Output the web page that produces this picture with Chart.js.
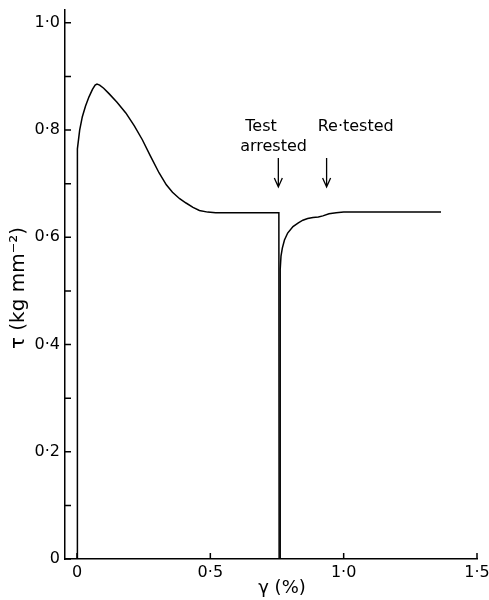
<!DOCTYPE html>
<html>
<head>
<meta charset="utf-8">
<script src="https://cdn.jsdelivr.net/npm/chart.js@4.4.1/dist/chart.umd.min.js"></script>
<style>
  html, body { margin: 0; padding: 0; background: #fff; }
  canvas { display: block; }
</style>
</head>
<body>
<canvas id="myChart" width="489" height="600"></canvas>
<script>
// first test: shear strain (%) vs shear stress (kg mm-2), then arrested
const testGamma = [0, 0, 0.003, 0.01, 0.02, 0.032, 0.045, 0.058, 0.068, 0.075, 0.085, 0.1, 0.12, 0.15, 0.183, 0.215, 0.245, 0.275, 0.308, 0.335, 0.358, 0.385, 0.409, 0.435, 0.459, 0.49, 0.52, 0.757, 0.758];
const testTau   = [0, 0.72, 0.765, 0.80, 0.825, 0.845, 0.862, 0.876, 0.884, 0.886, 0.884, 0.878, 0.868, 0.852, 0.832, 0.808, 0.782, 0.752, 0.72, 0.698, 0.684, 0.672, 0.664, 0.656, 0.65, 0.647, 0.646, 0.646, 0];

// re-test
const retestGamma = [0.762, 0.762, 0.765, 0.77, 0.778, 0.79, 0.81, 0.83, 0.847, 0.865, 0.885, 0.905, 0.922, 0.945, 0.972, 1.0, 1.365];
const retestTau   = [0, 0.54, 0.565, 0.58, 0.595, 0.608, 0.62, 0.627, 0.632, 0.635, 0.637, 0.638, 0.64, 0.644, 0.646, 0.647, 0.647];

const xTicks = [0, 0.5, 1.0, 1.5];
const yTicks = [0, 0.1, 0.2, 0.3, 0.4, 0.5, 0.6, 0.7, 0.8, 0.9, 1.0];

// arrows: where the test stopped and restarted
const arrowGamma = [0.755, 0.936];
const arrowLabels = [["Test", "arrested"], ["Re·tested"]];

const FONT = "'DejaVu Sans', sans-serif";

function fmt(v) {
  if (v === 0) return "0";
  return v.toFixed(1).replace(".", "·");
}

function pts(xs, ys) {
  return xs.map((x, i) => ({ x: x, y: ys[i] }));
}

const extras = {
  id: "extras",
  afterDraw(chart) {
    const ctx = chart.ctx;
    const xs = chart.scales.x;
    const ys = chart.scales.y;
    const area = chart.chartArea;
    ctx.save();
    ctx.strokeStyle = "#000";
    ctx.fillStyle = "#000";
    ctx.lineWidth = 1.5;

    // inward tick marks
    ctx.beginPath();
    yTicks.forEach(v => {
      const y = ys.getPixelForValue(v);
      ctx.moveTo(area.left, y);
      ctx.lineTo(area.left + 6, y);
    });
    xTicks.forEach(v => {
      const x = xs.getPixelForValue(v);
      ctx.moveTo(x, area.bottom);
      ctx.lineTo(x, area.bottom - 6);
    });
    ctx.stroke();

    // arrows
    ctx.lineWidth = 1.3;
    arrowGamma.forEach(g => {
      const x = xs.getPixelForValue(g);
      const y0 = ys.getPixelForValue(0.748);
      const y1 = ys.getPixelForValue(0.694);
      ctx.beginPath();
      ctx.moveTo(x, y0);
      ctx.lineTo(x, y1);
      ctx.moveTo(x - 4, y1 - 9);
      ctx.lineTo(x, y1);
      ctx.lineTo(x + 4, y1 - 9);
      ctx.stroke();
    });

    // annotation text
    ctx.font = "16px " + FONT;
    ctx.textAlign = "center";
    ctx.textBaseline = "middle";
    ctx.fillText(arrowLabels[0][0], xs.getPixelForValue(0.69), ys.getPixelForValue(0.806));
    ctx.fillText(arrowLabels[0][1], xs.getPixelForValue(0.737), ys.getPixelForValue(0.769));
    ctx.fillText(arrowLabels[1][0], xs.getPixelForValue(1.045), ys.getPixelForValue(0.806));

    // axis titles
    ctx.font = "18px " + FONT;
    ctx.fillText("γ (%)", 282, 588);
    ctx.font = "20px " + FONT;
    ctx.translate(19, 288);
    ctx.rotate(-Math.PI / 2);
    ctx.fillText("τ (kg mm⁻²)", 0, 0);
    ctx.restore();
  }
};

new Chart("myChart", {
  type: "line",
  data: {
    datasets: [
      { data: pts(testGamma, testTau), borderColor: "#000", borderWidth: 1.5, pointRadius: 0, tension: 0, fill: false },
      { data: pts(retestGamma, retestTau), borderColor: "#000", borderWidth: 1.5, pointRadius: 0, tension: 0, fill: false }
    ]
  },
  plugins: [extras],
  options: {
    responsive: false,
    animation: false,
    layout: { padding: { top: 10, right: 12, left: 0, bottom: 0 } },
    plugins: { legend: { display: false }, tooltip: { enabled: false } },
    scales: {
      x: {
        type: "linear",
        min: -0.045,
        max: 1.5,
        afterBuildTicks: s => { s.ticks = xTicks.map(v => ({ value: v })); },
        afterFit: s => { s.height = 41; s.paddingLeft = 0; s.paddingRight = 0; },
        grid: { display: false, drawTicks: false },
        border: { display: true, color: "#000", width: 1.5 },
        ticks: {
          padding: 4,
          color: "#000",
          font: { family: FONT, size: 16 },
          maxRotation: 0,
          autoSkip: false,
          callback: v => fmt(v)
        }
      },
      y: {
        type: "linear",
        min: 0,
        max: 1.024,
        afterBuildTicks: s => { s.ticks = yTicks.map(v => ({ value: v })); },
        afterFit: s => { s.width = 65; s.paddingTop = 0; s.paddingBottom = 0; },
        grid: { display: false, drawTicks: false },
        border: { display: true, color: "#000", width: 1.5 },
        ticks: {
          padding: 5,
          color: "#000",
          font: { family: FONT, size: 16 },
          autoSkip: false,
          callback: v => (Math.round(v * 10) % 2 === 0 ? fmt(v) : "")
        }
      }
    }
  }
});
</script>
</body>
</html>
